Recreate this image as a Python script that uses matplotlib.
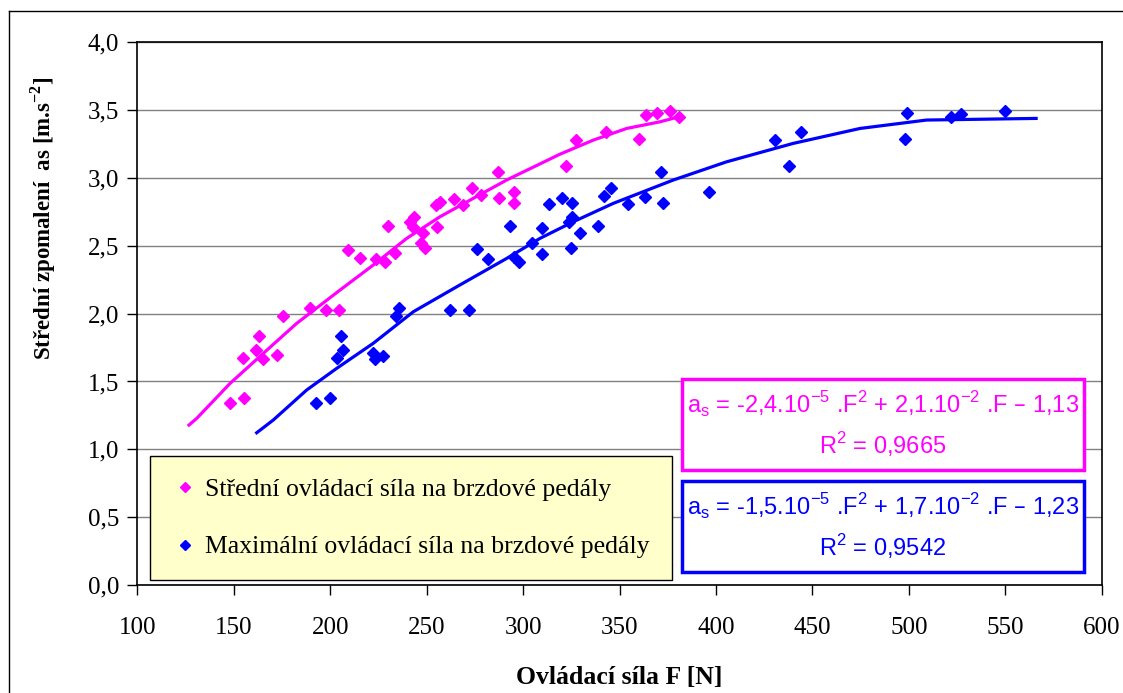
import matplotlib
matplotlib.use('Agg')
import matplotlib.pyplot as plt
from matplotlib.patches import Rectangle
from matplotlib.lines import Line2D
from matplotlib.ticker import FuncFormatter, MultipleLocator
import numpy as np

# --- data ---
# mean pedal force series (magenta)
F_str = [148.1, 155.5, 155.0, 161.5, 163.2, 165.3, 172.2, 175.6, 189.5, 198.0,
         204.6, 209.3, 215.3, 223.9, 228.2, 229.9, 233.7, 241.2, 243.7, 242.9,
         248.0, 247.2, 249.0, 255.5, 255.0, 256.7, 264.1, 269.1, 273.6, 278.2,
         286.8, 287.4, 295.1, 295.1, 322.5, 327.3, 342.8, 360.0, 363.8, 369.5,
         376.4, 381.1]
a_str = [1.339, 1.380, 1.675, 1.732, 1.835, 1.663, 1.695, 1.985, 2.039, 2.026,
         2.026, 2.469, 2.407, 2.402, 2.382, 2.646, 2.444, 2.677, 2.714, 2.640,
         2.592, 2.518, 2.481, 2.640, 2.800, 2.825, 2.842, 2.800, 2.928, 2.874,
         3.046, 2.854, 2.898, 2.817, 3.088, 3.279, 3.340, 3.284, 3.463, 3.476,
         3.495, 3.447]

# maximum pedal force series (blue)
F_max = [192.6, 199.9, 205.5, 206.7, 203.6, 222.1, 223.0, 227.3, 235.6, 234.2,
         262.2, 272.2, 276.1, 282.0, 293.2, 295.4, 298.0, 304.4, 310.0, 310.0,
         313.2, 320.4, 325.5, 325.2, 324.0, 329.5, 324.7, 339.0, 341.9, 345.4,
         354.5, 363.2, 372.5, 371.6, 396.4, 430.8, 437.8, 444.3, 498.0, 498.8,
         522.1, 527.3, 549.7]
a_max = [1.339, 1.380, 1.835, 1.732, 1.675, 1.707, 1.663, 1.688, 2.039, 1.982,
         2.026, 2.026, 2.474, 2.402, 2.646, 2.419, 2.382, 2.522, 2.439, 2.629,
         2.808, 2.850, 2.813, 2.714, 2.677, 2.592, 2.481, 2.646, 2.867, 2.923,
         2.805, 2.857, 2.817, 3.046, 2.898, 3.279, 3.088, 3.340, 3.284, 3.480,
         3.451, 3.471, 3.495]

# trend lines as drawn
F_str_fit = [126.8, 130.8, 148.1, 165.3, 182.6, 205.1, 222.3, 239.7, 256.9, 274.2,
             291.5, 319.1, 336.4, 353.7, 371.0, 380.8]
a_str_fit = [1.179, 1.228, 1.486, 1.707, 1.928, 2.174, 2.358, 2.555, 2.714, 2.850,
             2.985, 3.175, 3.279, 3.365, 3.414, 3.451]
F_max_fit = [161.9, 170.5, 187.8, 203.4, 222.3, 243.1, 265.6, 291.5, 308.8, 326.0,
             346.8, 377.9, 405.5, 440.1, 474.7, 509.2, 566.0]
a_max_fit = [1.122, 1.216, 1.437, 1.597, 1.781, 2.014, 2.198, 2.407, 2.555, 2.677,
             2.813, 2.985, 3.119, 3.255, 3.365, 3.427, 3.439]

labels = ['Střední ovládací síla na brzdové pedály',
          'Maximální ovládací síla na brzdové pedály']
eq_str = [r'a$_\mathregular{s}$ = -2,4.10$^\mathregular{-5}$ .F$^\mathregular{2}$ + 2,1.10$^\mathregular{-2}$ .F – 1,13',
          r'R$^\mathregular{2}$ = 0,9665']
eq_max = [r'a$_\mathregular{s}$ = -1,5.10$^\mathregular{-5}$ .F$^\mathregular{2}$ + 1,7.10$^\mathregular{-2}$ .F – 1,23',
          r'R$^\mathregular{2}$ = 0,9542']

pink = '#FF00FF'
blue = '#0000FF'
serif = 'Liberation Serif'
sans = 'Liberation Sans'

W, H = 1123, 693
fig = plt.figure(figsize=(W / 100, H / 100), dpi=100)
ax = fig.add_axes([137.3 / W, 1 - 585 / H, (1101.7 - 137.3) / W, (585 - 42.3) / H])

ax.plot(F_str_fit, a_str_fit, color=pink, lw=2.3, zorder=2)
ax.plot(F_max_fit, a_max_fit, color=blue, lw=2.3, zorder=2)
h1, = ax.plot(F_str, a_str, 'D', color=pink, ms=6.3, mec=pink, ls='none', zorder=3)
h2, = ax.plot(F_max, a_max, 'D', color=blue, ms=6.3, mec=blue, ls='none', zorder=3)

ax.set_xlim(100, 600)
ax.set_ylim(0, 4.0)
ax.xaxis.set_major_locator(MultipleLocator(50))
ax.yaxis.set_major_locator(MultipleLocator(0.5))
ax.yaxis.set_major_formatter(FuncFormatter(lambda v, p: ('%.1f' % v).replace('.', ',')))
ax.grid(axis='y', color='#808080', lw=1)
ax.set_axisbelow(True)
for s in ax.spines.values():
    s.set_linewidth(1.2)
    s.set_color('black')
ax.tick_params(direction='out', length=7, width=1, labelsize=18, pad=6)
for lab in ax.get_xticklabels() + ax.get_yticklabels():
    lab.set_family(serif)
ax.tick_params(axis='x', pad=16)

ax.set_xlabel('Ovládací síla F [N]', family=serif, fontsize=18.5, weight='bold')
ax.xaxis.set_label_coords(0.5, -0.15)
ax.set_ylabel(r'Střední zpomalení  as [m.s$^\mathregular{-2}$]', family=serif, fontsize=16.5,
              weight='bold')
ax.yaxis.set_label_coords((58 - 137.3) / 964.4, 0.676)

leg = ax.legend([h1, h2], labels, loc='upper left', bbox_to_anchor=(150 / W, 1 - 456 / H),
                bbox_transform=fig.transFigure, borderaxespad=0, prop={'family': serif, 'size': 18.5},
                frameon=True, fancybox=False, markerscale=0.8, handlelength=1.0,
                handletextpad=0.3, labelspacing=1.35, borderpad=0.85)
leg.get_frame().set_facecolor('#FFFFCC')
leg.get_frame().set_edgecolor('black')
leg.get_frame().set_linewidth(1.0)
leg.get_frame().set_alpha(1)

# equation boxes
for y0, col, lines, ty in [(1 - 470 / H, pink, eq_str, (1 - 405 / H, 1 - 445 / H)),
                           (1 - 572 / H, blue, eq_max, (1 - 507 / H, 1 - 547 / H))]:
    fig.add_artist(Rectangle((682 / W, y0), 402 / W, 91 / H, transform=fig.transFigure,
                             facecolor='white', edgecolor=col, lw=2.5, zorder=5))
    for txt, yy in zip(lines, ty):
        fig.text(883 / W, yy, txt, color=col, family=sans, fontsize=17,
                 ha='center', va='center', zorder=6)

# outer chart frame (only top and left visible)
fig.add_artist(Line2D([9 / W, 1], [1 - 11 / H, 1 - 11 / H], transform=fig.transFigure,
                      color='black', lw=1))
fig.add_artist(Line2D([9 / W, 9 / W], [0, 1 - 11 / H], transform=fig.transFigure,
                      color='black', lw=1))

fig.savefig('out.png', dpi=100)
